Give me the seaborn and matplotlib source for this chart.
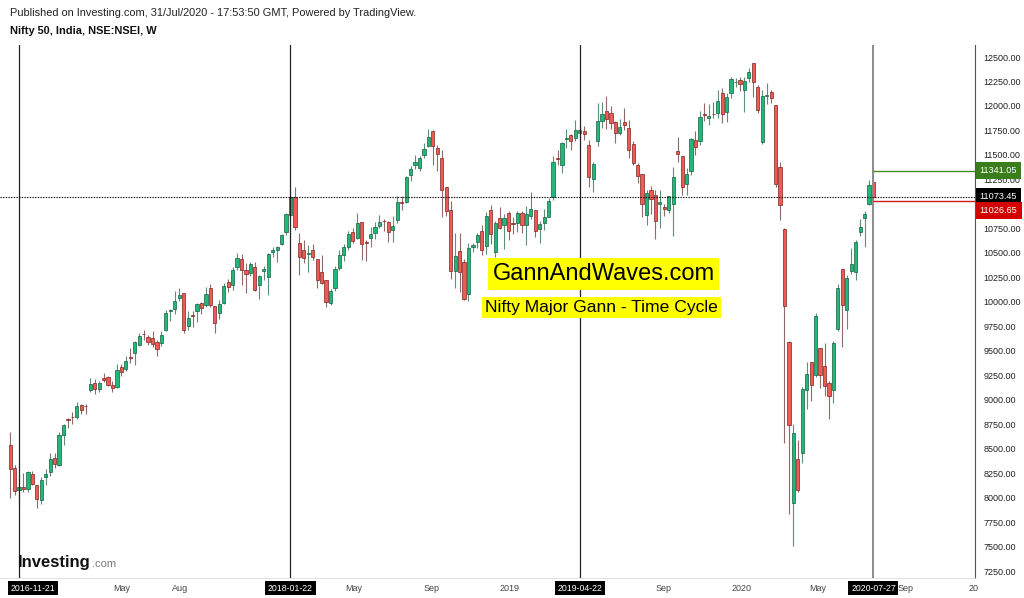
import numpy as np
import pandas as pd
import matplotlib
matplotlib.use("Agg")
import matplotlib.pyplot as plt
import matplotlib.transforms as mtransforms
import seaborn as sns

# Nifty 50 weekly candles, week starting 2016-11-07 ... 2020-07-27
start_week = "2016-11-07"
opens = [8535, 8300, 8080, 8110, 8088, 8240, 8130, 7977, 8210, 8259,
         8402, 8334, 8640, 8800, 8828, 8828, 8947, 8936, 9100, 9168,
         9107, 9226, 9230, 9151, 9134, 9338, 9311, 9434, 9480, 9560,
         9669, 9645, 9628, 9594, 9584, 9713, 9905, 9924, 10036, 10087,
         9757, 9862, 9910, 9985, 9968, 10138, 9958, 9890, 9992, 10206,
         10172, 10353, 10434, 10325, 10298, 10359, 10172, 10315, 10257, 10512,
         10529, 10591, 10717, 10887, 11074, 10604, 10530, 10489, 10530, 10434,
         10308, 10223, 9992, 10145, 10342, 10480, 10557, 10717, 10649, 10815,
         10615, 10648, 10700, 10778, 10826, 10819, 10734, 10836, 11023, 11023,
         11295, 11397, 11363, 11500, 11591, 11744, 11568, 11466, 11169, 10938,
         10315, 10523, 10411, 10077, 10564, 10608, 10727, 10570, 10938, 10513,
         10853, 10785, 10911, 10804, 10802, 10904, 10785, 10877, 10938, 10741,
         10809, 10870, 11067, 11465, 11397, 11665, 11704, 11670, 11728, 11745,
         11602, 11251, 11646, 11850, 11952, 11932, 11840, 11721, 11833, 11772,
         11608, 11397, 11306, 10887, 11142, 11091, 10999, 10965, 10938, 10996,
         11540, 11489, 11200, 11336, 11653, 11643, 11918, 11874, 11915, 11925,
         12129, 11935, 12129, 12241, 12265, 12163, 12289, 12436, 12197, 11629,
         12102, 12146, 12010, 11380, 10744, 9590, 7949, 8396, 8457, 9103,
         9386, 9253, 9529, 9345, 9171, 9100, 9723, 10335, 9917, 10315,
         10305, 10713, 10856, 10998, 11225]
highs = [8669, 8335, 8190, 8250, 8274, 8275, 8132, 8213, 8293, 8460,
         8460, 8672, 8757, 8819, 8879, 8982, 8961, 8961, 9218, 9208,
         9190, 9274, 9246, 9188, 9368, 9367, 9450, 9532, 9605, 9679,
         9709, 9660, 9706, 9615, 9700, 9913, 9928, 10114, 10138, 10088,
         9904, 9903, 9993, 10003, 10148, 10179, 9960, 10018, 10191, 10236,
         10353, 10495, 10490, 10400, 10404, 10404, 10271, 10362, 10501, 10560,
         10566, 10690, 10906, 11110, 11176, 10700, 10632, 10580, 10588, 10434,
         10478, 10227, 10132, 10366, 10530, 10594, 10727, 10759, 10911, 10815,
         10631, 10768, 10818, 10887, 10843, 10823, 10877, 11078, 11081, 11283,
         11391, 11495, 11486, 11619, 11762, 11751, 11603, 11546, 11170, 11035,
         10706, 10706, 10440, 10606, 10600, 10700, 10780, 10922, 10989, 10830,
         10972, 10894, 10923, 10870, 10928, 10931, 10983, 11125, 10938, 10828,
         10944, 11057, 11487, 11550, 11630, 11761, 11711, 11856, 11803, 11796,
         11657, 11426, 12034, 12041, 12103, 12000, 11843, 11871, 11976, 11862,
         11640, 11418, 11307, 11145, 11181, 11146, 11141, 11000, 11084, 11380,
         11687, 11490, 11363, 11670, 11744, 11945, 12034, 12017, 12038, 12159,
         12180, 12129, 12294, 12287, 12293, 12300, 12389, 12436, 12216, 12160,
         12238, 12159, 12012, 11433, 10752, 9603, 8749, 8590, 9131, 9390,
         9390, 9889, 9533, 9584, 9190, 9598, 10178, 10335, 10272, 10553,
         10631, 10847, 10933, 11240, 11341.05]
lows = [8002, 8032, 7916, 8057, 8056, 8131, 7894, 7940, 8133, 8227,
        8300, 8327, 8537, 8712, 8752, 8801, 8860, 8860, 9076, 9061,
        9075, 9178, 9142, 9083, 9120, 9244, 9290, 9374, 9355, 9549,
        9610, 9560, 9540, 9448, 9550, 9700, 9800, 9880, 10005, 9685,
        9710, 9747, 9791, 9875, 9950, 9952, 9687, 9830, 9980, 10100,
        10124, 10321, 10175, 10094, 10262, 10108, 10033, 10220, 10075, 10461,
        10404, 10584, 10680, 10860, 10736, 10276, 10398, 10308, 10429, 10141,
        10180, 9951, 9968, 10111, 10325, 10420, 10532, 10601, 10640, 10427,
        10418, 10563, 10637, 10753, 10725, 10615, 10614, 10802, 10938, 11010,
        11234, 11359, 11340, 11471, 11577, 11397, 11340, 10870, 10876, 10230,
        10145, 10102, 10019, 10005, 10512, 10547, 10480, 10488, 10588, 10461,
        10740, 10535, 10628, 10692, 10713, 10700, 10583, 10850, 10666, 10600,
        10729, 10864, 11041, 11397, 11311, 11569, 11549, 11640, 11578, 11648,
        11176, 11125, 11591, 11780, 11770, 11770, 11625, 11700, 11756, 11465,
        11400, 11210, 10863, 10785, 10901, 10639, 10757, 10880, 10910, 10670,
        11425, 11090, 11091, 11300, 11500, 11600, 11850, 11806, 11880, 11880,
        11823, 11840, 12086, 12192, 12152, 11935, 12244, 12087, 11930, 11614,
        12023, 12032, 11175, 10836, 8555, 7832, 7511, 8056, 8360, 8909,
        8990, 9236, 9116, 9043, 8806, 8969, 9706, 9544, 9726, 10281,
        10223, 10676, 10562, 10990, 11026.65]
closes = [8296, 8074, 8114, 8086, 8261, 8139, 7986, 8186, 8244, 8400,
          8349, 8641, 8741, 8794, 8822, 8940, 8898, 8935, 9160, 9108,
          9174, 9198, 9150, 9119, 9304, 9285, 9401, 9428, 9595, 9653,
          9668, 9588, 9575, 9521, 9665, 9886, 9915, 10014, 10066, 9711,
          9837, 9857, 9974, 9934, 10085, 9964, 9788, 9979, 10167, 10147,
          10323, 10452, 10322, 10283, 10389, 10121, 10265, 10333, 10493, 10530,
          10558, 10681, 10894, 11069, 10760, 10454, 10452, 10491, 10458, 10227,
          10195, 9998, 10114, 10332, 10481, 10564, 10692, 10618, 10807, 10596,
          10605, 10696, 10768, 10818, 10822, 10714, 10772, 11019, 11010, 11278,
          11361, 11429, 11470, 11557, 11681, 11590, 11515, 11143, 10930, 10316,
          10472, 10303, 10030, 10553, 10585, 10682, 10526, 10876, 10693, 10805,
          10754, 10859, 10727, 10795, 10907, 10780, 10894, 10944, 10724, 10792,
          10864, 11035, 11427, 11457, 11624, 11666, 11643, 11753, 11755, 11712,
          11279, 11407, 11844, 11923, 11871, 11823, 11724, 11789, 11811, 11552,
          11419, 11285, 10997, 11110, 11048, 10829, 11023, 10947, 11076, 11274,
          11512, 11175, 11305, 11662, 11584, 11891, 11908, 11895, 11914, 12056,
          11922, 12087, 12272, 12246, 12226, 12257, 12352, 12248, 11962, 12098,
          12113, 12080, 11202, 10989, 9955, 8745, 8660, 8084, 9111, 9267,
          9154, 9860, 9251, 9137, 9039, 9580, 10142, 9972, 10244, 10383,
          10608, 10768, 10902, 11194, 11073.45]

cycle_dates = ["2016-11-21", "2018-01-22", "2019-04-22", "2020-07-27"]
month_dates = ["2017-05-01", "2017-08-01", "2018-05-01", "2018-09-01", "2019-01-01",
               "2019-09-01", "2020-01-01", "2020-05-01", "2020-09-01"]
month_labels = ["May", "Aug", "May", "Sep", "2019", "Sep", "2020", "May", "Sep"]

dates = pd.date_range(start_week, periods=len(closes), freq="W-MON")
df = pd.DataFrame({"date": dates, "open": opens, "high": highs,
                   "low": lows, "close": closes})


def wk(d):
    return (pd.Timestamp(d) - dates[0]).days / 7


df["x"] = [wk(d) for d in df["date"]]
df["up"] = df["close"] >= df["open"]

sns.set_theme(style="white")
plt.rcParams["font.family"] = ["Liberation Sans", "DejaVu Sans"]

fig = plt.figure(figsize=(10.24, 5.98), dpi=100)
ax = fig.add_axes([0.0, 0.0334, 0.9521, 0.8913])

# wicks
wick_col = np.where(df["up"], "#5f8f78", "#8f6a66")
ax.vlines(df["x"], df["low"], df["high"], colors=wick_col, lw=0.8, zorder=2)
# bodies
body = (df["close"] - df["open"]).abs().clip(lower=6)
bottom = df[["open", "close"]].min(axis=1)
ax.bar(df["x"], body, bottom=bottom, width=0.72,
       color=np.where(df["up"], "#1fb878", "#f05a55"),
       edgecolor=np.where(df["up"], "#1b5e40", "#7a2622"),
       linewidth=0.5, zorder=3)

# time cycle lines
for d in cycle_dates:
    last_line = d == cycle_dates[-1]
    ax.axvline(wk(d), color="#8a8a8a" if last_line else "#222222",
               lw=1.4 if last_line else 0.9, zorder=4)

last = df.iloc[-1]
xmax = 216.8
ax.axhline(last["close"], color="black", ls=(0, (1.2, 1.2)), lw=0.8, zorder=4)
ax.hlines(last["high"], last["x"], xmax, color="#3f8f1f", lw=1.0, zorder=4)
ax.hlines(last["low"], last["x"], xmax, color="#d11a1a", lw=1.0, zorder=4)

ax.set_xlim(-2.27, xmax)
ax.set_ylim(7180.6, 12622.5)

# right price axis
yt = np.arange(7250, 12501, 250)
ax.yaxis.tick_right()
ax.set_yticks(yt)
ax.set_yticklabels(["" if v == 11000 else f"{v:.2f}" for v in yt])
ax.tick_params(axis="y", length=3, width=0.6, color="#555555", pad=3,
               labelsize=6.5, labelcolor="#222222", right=True)

ax.set_xticks([wk(d) for d in month_dates])
ax.set_xticklabels(month_labels)
ax.tick_params(axis="x", length=0, pad=4, labelsize=6.5, labelcolor="#444444")
# last month label sits just right of the date tag
lab = ax.get_xticklabels()[-1]
lab.set_transform(lab.get_transform() + mtransforms.ScaledTranslation(9 / 100, 0, fig.dpi_scale_trans))

sns.despine(ax=ax, left=True, top=True, right=False, bottom=False)
ax.spines["right"].set_color("#555555")
ax.spines["right"].set_linewidth(0.8)
ax.spines["bottom"].set_color("#dddddd")
ax.spines["bottom"].set_linewidth(0.6)

# price tags on the axis (the low tag is pushed down so the tags do not collide)
ytrans = ax.get_yaxis_transform()
tags = [(last["high"], "#3a7d1c", 0), (last["close"], "black", 0), (last["low"], "#d40000", -9)]
for val, fc, dy in tags:
    tr = ytrans + mtransforms.ScaledTranslation(0, dy / 100, fig.dpi_scale_trans)
    ax.text(1.005, val, f"{val:.2f}", transform=tr, ha="left", va="center",
            fontsize=6.6, color="white", zorder=10, clip_on=False,
            bbox=dict(boxstyle="square,pad=0.45", fc=fc, ec="none"))

# date tags on the time axis
xtrans = ax.get_xaxis_transform()
for d in cycle_dates:
    first = d == cycle_dates[0]
    ax.text(0.2 if first else wk(d), -0.019, d, transform=xtrans,
            ha="left" if first else "center", va="center",
            fontsize=6.3, color="white", zorder=10, clip_on=False,
            bbox=dict(boxstyle="square,pad=0.3", fc="black", ec="none"))
ax.text(216.4, -0.019, "20", transform=xtrans, ha="center", va="center",
        fontsize=6.5, color="#444444", clip_on=False)

# titles
fig.text(0.0098, 0.978, "Published on Investing.com, 31/Jul/2020 - 17:53:50 GMT, Powered by TradingView.",
         fontsize=7.9, color="#222222", va="center")
fig.text(0.0098, 0.948, "Nifty 50, India, NSE:NSEI, W", fontsize=7.9, fontweight="bold",
         color="#111111", va="center")

# annotations
ax.text(0.619, 0.570, "GannAndWaves.com", transform=ax.transAxes, ha="center", va="center",
        fontsize=17, color="black", zorder=8,
        bbox=dict(boxstyle="square,pad=0.2", fc="#ffff00", ec="none"))
ax.text(0.617, 0.508, "Nifty Major Gann - Time Cycle", transform=ax.transAxes,
        ha="center", va="center", fontsize=12.6, color="black", zorder=8,
        bbox=dict(boxstyle="square,pad=0.18", fc="#ffff00", ec="none"))

# watermark logo
fig.text(0.0176, 0.060, "Investing", fontsize=12, fontweight="bold", color="#111111", va="center")
fig.text(0.0895, 0.057, ".com", fontsize=8, color="#777777", va="center")

fig.savefig("out.png", dpi=100, facecolor="white")
